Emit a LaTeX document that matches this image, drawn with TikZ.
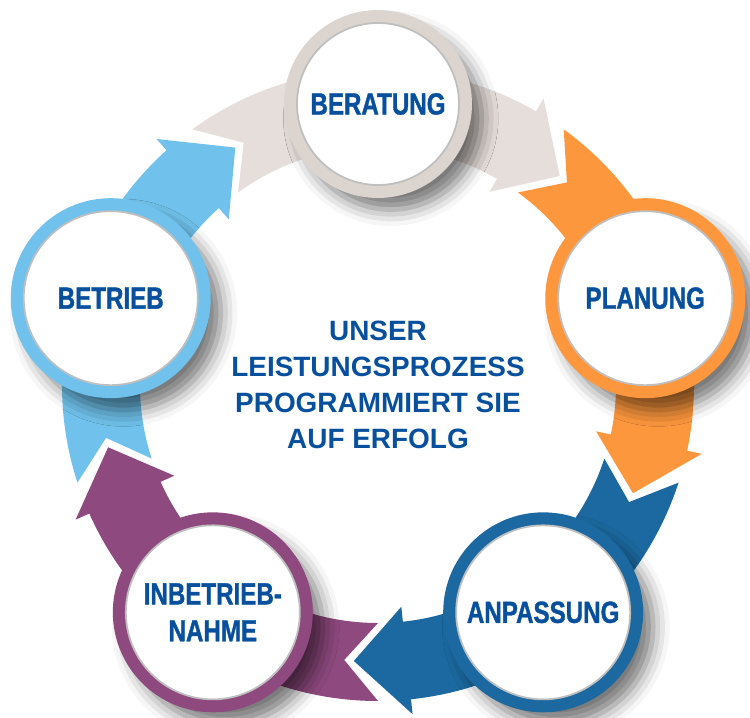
\documentclass[tikz,border=0pt]{standalone}
\usepackage{fontspec}
\setmainfont{Liberation Sans}
\newfontfamily\narrowfont[FakeStretch=0.79, FakeBold=1.2]{Liberation Sans}
\usetikzlibrary{shadows.blur}

\definecolor{txtblue}{RGB}{8,80,158}
\definecolor{greyarc}{RGB}{230,222,218}
\definecolor{greyring}{RGB}{220,212,207}
\definecolor{orangearc}{RGB}{253,151,62}
\definecolor{bluearc}{RGB}{27,105,160}
\definecolor{purplearc}{RGB}{142,73,126}
\definecolor{skyarc}{RGB}{112,194,236}

\tikzset{
  stage/.style={circle, draw=#1, fill=white, line width=7.4pt,
    minimum size=3.74cm, inner sep=0pt, align=center, text=txtblue,
    font=\narrowfont\bfseries\fontsize{17.4}{21}\selectfont,
    blur shadow={shadow xshift=7pt, shadow yshift=-8pt, shadow scale=1.04,
      shadow blur radius=9pt, shadow opacity=55}},
  motto/.style={align=center, text=txtblue,
    font=\bfseries\fontsize{15.9}{20.4}\selectfont},
  inneredge/.style={black!25, line width=1pt}
}

\begin{document}
\begin{tikzpicture}[x=0.02cm, y=0.02cm]
\useasboundingbox (-378,-332) rectangle (372,385);
\foreach \a/\c in {90/greyarc, 18/orangearc, -54/bluearc, -126/purplearc, 162/skyarc}
  \fill[\c] ({\a+36}:316) arc[start angle=\a+36, end angle=\a-30, radius=316]
    -- ({\a-30}:331) -- ({\a-41}:277) -- ({\a-30}:223) -- ({\a-30}:238)
    arc[start angle=\a-30, end angle=\a+36, radius=238] -- ({\a+29}:277) -- cycle;
\node[stage=greyring, minimum size=3.5cm] (berat) at (90:281) {BERATUNG};
\node[stage=orangearc] (plan) at (18:281) {PLANUNG};
\node[stage=bluearc] (anpass) at (-54:281) {ANPASSUNG};
\node[stage=purplearc] (inbetr) at (-126:281) {INBETRIEB-\\NAHME};
\node[stage=skyarc] (betr) at (162:281) {BETRIEB};
\foreach \n/\r in {berat/81, plan/87, anpass/87, inbetr/87, betr/87}
  \draw[inneredge] (\n.center) circle[radius=\r];
\node[motto] (claim) at (0,0) {UNSER\\LEISTUNGSPROZESS\\PROGRAMMIERT SIE\\AUF ERFOLG};
\end{tikzpicture}
\end{document}
